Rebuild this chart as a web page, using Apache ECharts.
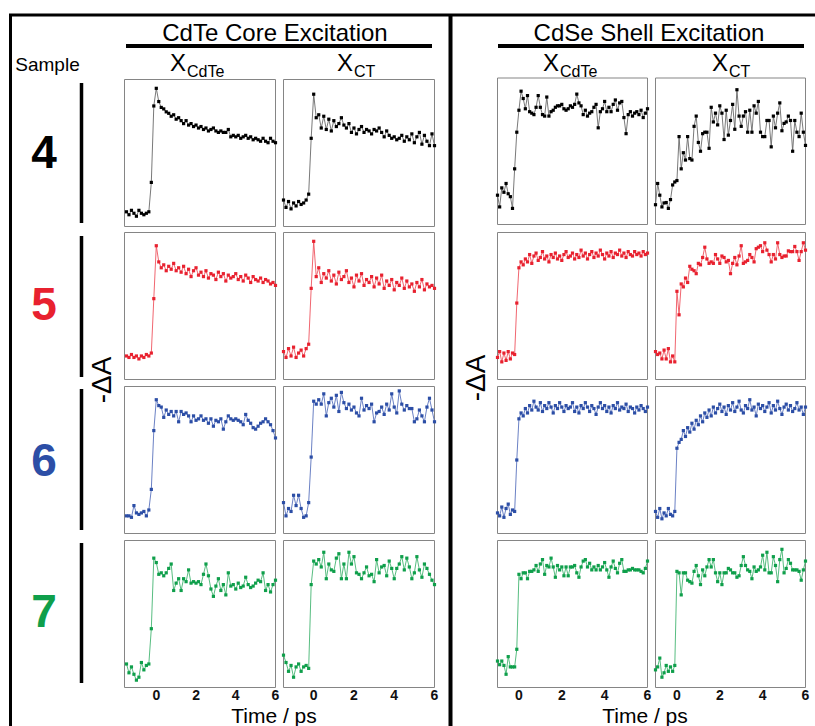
<!DOCTYPE html>
<html>
<head>
<meta charset="utf-8">
<script src="https://cdn.jsdelivr.net/npm/echarts@6/dist/echarts.min.js"></script>
<style>
html,body{margin:0;padding:0;background:#fff;}
#chart{width:815px;height:726px;}
</style>
</head>
<body>
<div id="chart"></div>
<script>
// ---------- DATA ----------
const timeCore = [-1.5,-1.375,-1.25,-1.125,-1,-0.875,-0.75,-0.625,-0.5,-0.375,-0.25,-0.125,0,0.125,0.25,0.375,0.5,0.625,0.75,0.875,1,1.125,1.25,1.375,1.5,1.625,1.75,1.875,2,2.125,2.25,2.375,2.5,2.625,2.75,2.875,3,3.125,3.25,3.375,3.5,3.625,3.75,3.875,4,4.125,4.25,4.375,4.5,4.625,4.75,4.875,5,5.125,5.25,5.375,5.5,5.625,5.75,5.875,6];
const timeShell = [-1,-0.9,-0.8,-0.7,-0.6,-0.5,-0.4,-0.3,-0.2,-0.1,0,0.1,0.2,0.3,0.4,0.5,0.6,0.7,0.8,0.9,1,1.1,1.2,1.3,1.4,1.5,1.6,1.7,1.8,1.9,2,2.1,2.2,2.3,2.4,2.5,2.6,2.7,2.8,2.9,3,3.1,3.2,3.3,3.4,3.5,3.6,3.7,3.8,3.9,4,4.1,4.2,4.3,4.4,4.5,4.6,4.7,4.8,4.9,5,5.1,5.2,5.3,5.4,5.5,5.6,5.7,5.8,5.9,6];
const xTickLabels = [0, 2, 4, 6];

const sampleNames = ['4', '5', '6', '7'];
const sampleColors = ['#000000', '#e8212f', '#2c4ea6', '#0f9f4b'];
const lineColors = ['#6a6a6a', '#ee5560', '#5a73bd', '#45b673'];
const excitationTitles = ['CdTe Core Excitation', 'CdSe Shell Excitation'];
const columnSubscripts = ['CdTe', 'CT', 'CdTe', 'CT'];

// normalized -ΔA (0 = panel bottom, 1 = panel top)
const s4CoreCdTe = [0.10,0.08,0.11,0.09,0.07,0.11,0.09,0.08,0.09,0.10,
 0.30,0.82,0.94,
 0.85,0.81,0.80,0.78,0.77,0.75,0.76,0.73,0.74,0.72,
 0.70,0.72,0.69,0.70,0.68,0.69,0.67,0.68,0.66,0.67,
 0.65,0.66,0.67,0.65,0.64,0.65,0.64,0.64,0.66,0.61,
 0.62,0.61,0.62,0.60,0.61,0.62,0.60,0.61,0.59,0.60,
 0.59,0.58,0.60,0.58,0.57,0.60,0.58,0.57];
const s4CoreCT = [0.18,0.13,0.17,0.12,0.16,0.14,0.17,0.15,0.16,0.18,
 0.22,0.60,0.90,
 0.74,0.76,0.67,0.75,0.66,0.73,0.65,0.72,0.68,0.70,
 0.74,0.69,0.67,0.70,0.64,0.67,0.63,0.66,0.68,0.64,
 0.66,0.65,0.63,0.66,0.65,0.67,0.64,0.61,0.65,0.62,
 0.60,0.61,0.59,0.60,0.62,0.58,0.61,0.59,0.63,0.57,
 0.61,0.64,0.56,0.62,0.58,0.55,0.63,0.55];
const s5CoreCdTe = [0.16,0.15,0.17,0.15,0.16,0.14,0.16,0.15,0.17,0.16,
 0.18,0.55,0.91,
 0.80,0.76,0.78,0.74,0.77,0.75,0.79,0.74,0.76,0.73,
 0.77,0.72,0.75,0.70,0.74,0.76,0.71,0.73,0.70,0.74,
 0.69,0.72,0.71,0.68,0.73,0.70,0.72,0.67,0.71,0.69,
 0.70,0.72,0.68,0.70,0.67,0.71,0.69,0.66,0.70,0.68,
 0.67,0.69,0.66,0.68,0.67,0.65,0.66,0.64];
const s5CoreCT = [0.19,0.15,0.21,0.16,0.22,0.15,0.18,0.20,0.16,0.21,
 0.24,0.62,0.94,
 0.70,0.76,0.66,0.72,0.69,0.74,0.67,0.71,0.65,0.73,
 0.68,0.70,0.74,0.66,0.69,0.63,0.71,0.67,0.72,0.64,
 0.68,0.66,0.70,0.63,0.69,0.65,0.71,0.62,0.67,0.64,
 0.68,0.61,0.66,0.64,0.69,0.62,0.67,0.63,0.65,0.60,
 0.66,0.63,0.68,0.61,0.65,0.63,0.64,0.62];
const s6CoreCdTe = [0.12,0.12,0.11,0.19,0.14,0.13,0.14,0.15,0.12,0.16,
 0.30,0.70,0.91,
 0.87,0.86,0.79,0.84,0.81,0.83,0.80,0.83,0.76,0.83,
 0.81,0.82,0.80,0.76,0.80,0.77,0.78,0.80,0.77,0.78,
 0.75,0.78,0.73,0.77,0.76,0.78,0.71,0.76,0.80,0.78,
 0.77,0.78,0.77,0.76,0.74,0.81,0.77,0.75,0.72,0.71,
 0.73,0.75,0.76,0.78,0.76,0.74,0.70,0.65];
const s6CoreCT = [0.21,0.12,0.17,0.15,0.26,0.19,0.26,0.17,0.11,0.12,
 0.21,0.52,0.90,
 0.88,0.91,0.88,0.95,0.80,0.89,0.92,0.86,0.94,0.83,
 0.96,0.89,0.85,0.88,0.84,0.86,0.82,0.80,0.92,0.84,
 0.87,0.85,0.88,0.76,0.82,0.83,0.86,0.81,0.88,0.84,
 0.95,0.86,0.82,0.97,0.88,0.84,0.87,0.85,0.85,0.76,
 0.78,0.84,0.80,0.76,0.86,0.92,0.84,0.76];
const s7CoreCdTe = [0.16,0.10,0.14,0.09,0.05,0.07,0.17,0.12,0.15,0.16,
 0.40,0.88,0.85,
 0.77,0.78,0.76,0.78,0.81,0.84,0.66,0.71,0.74,0.66,
 0.74,0.72,0.80,0.71,0.72,0.71,0.72,0.70,0.77,0.84,
 0.76,0.67,0.62,0.69,0.74,0.66,0.70,0.63,0.78,0.69,
 0.70,0.67,0.71,0.68,0.69,0.75,0.70,0.68,0.69,0.71,
 0.73,0.72,0.78,0.66,0.70,0.65,0.70,0.73];
const s7CoreCT = [0.22,0.17,0.11,0.15,0.07,0.14,0.16,0.11,0.14,0.15,
 0.13,0.70,0.86,
 0.84,0.87,0.82,0.92,0.74,0.84,0.80,0.79,0.88,0.91,
 0.74,0.84,0.74,0.92,0.84,0.89,0.78,0.77,0.74,0.78,
 0.82,0.76,0.77,0.72,0.87,0.78,0.82,0.83,0.76,0.86,
 0.81,0.74,0.81,0.84,0.89,0.80,0.88,0.82,0.74,0.78,
 0.89,0.80,0.75,0.84,0.81,0.77,0.73,0.70];

const s4ShellCdTe = [0.20,0.12,0.25,0.22,0.28,0.21,0.19,0.11,
 0.38,0.63,0.78,0.91,
 0.86,0.79,0.88,0.77,0.76,0.75,0.80,0.88,0.80,0.75,
 0.74,0.87,0.74,0.77,0.78,0.80,0.81,0.81,0.82,0.79,
 0.78,0.79,0.81,0.80,0.82,0.89,0.83,0.81,0.75,0.78,
 0.74,0.76,0.77,0.80,0.82,0.66,0.77,0.79,0.84,0.77,
 0.80,0.77,0.82,0.85,0.78,0.83,0.84,0.73,0.62,0.75,
 0.77,0.74,0.76,0.77,0.75,0.78,0.73,0.76,0.79];
const s4ShellCT = [0.135,0.28,0.20,0.12,0.147,0.15,0.11,0.17,0.27,0.29,
 0.30,0.60,0.38,0.49,0.44,0.60,0.45,0.44,0.67,0.74,
 0.56,0.50,0.62,0.63,0.63,0.52,0.80,0.70,0.76,0.68,
 0.81,0.76,0.58,0.78,0.61,0.71,0.82,0.65,0.92,0.74,
 0.67,0.74,0.77,0.63,0.78,0.63,0.81,0.76,0.84,0.63,
 0.60,0.60,0.71,0.71,0.53,0.74,0.66,0.76,0.83,0.64,
 0.69,0.70,0.74,0.71,0.50,0.71,0.63,0.60,0.76,0.63,
 0.54];
const s5ShellCdTe = [0.15,0.19,0.12,0.18,0.13,0.19,0.14,0.18,
 0.17,0.52,0.76,0.80,
 0.78,0.82,0.80,0.85,0.79,0.84,0.86,0.81,0.83,0.87,
 0.82,0.84,0.80,0.85,0.83,0.86,0.82,0.84,0.81,0.85,
 0.87,0.83,0.84,0.86,0.82,0.85,0.83,0.88,0.84,0.86,
 0.82,0.85,0.87,0.83,0.86,0.84,0.88,0.85,0.82,0.86,
 0.84,0.87,0.83,0.86,0.85,0.88,0.84,0.86,0.83,0.87,
 0.85,0.84,0.87,0.85,0.86,0.84,0.87,0.85,0.86];
const s5ShellCT = [0.19,0.17,0.18,0.14,0.20,0.14,0.21,0.12,0.16,0.12,
 0.60,0.44,0.65,0.63,0.69,0.66,0.77,0.75,0.74,0.72,
 0.79,0.78,0.83,0.90,0.82,0.79,0.80,0.79,0.85,0.82,
 0.79,0.84,0.83,0.80,0.81,0.72,0.79,0.83,0.78,0.84,
 0.91,0.79,0.80,0.81,0.85,0.83,0.80,0.89,0.90,0.91,
 0.87,0.93,0.88,0.85,0.80,0.85,0.82,0.93,0.85,0.83,
 0.84,0.84,0.875,0.87,0.87,0.905,0.87,0.81,0.87,0.93,
 0.88];
const s6ShellCdTe = [0.14,0.12,0.18,0.11,0.17,0.20,0.13,0.16,
 0.15,0.50,0.78,0.82,
 0.80,0.85,0.82,0.87,0.84,0.90,0.86,0.84,0.89,0.83,
 0.87,0.85,0.89,0.86,0.82,0.87,0.85,0.89,0.86,0.83,
 0.87,0.85,0.86,0.89,0.83,0.86,0.82,0.87,0.85,0.89,
 0.86,0.83,0.87,0.85,0.81,0.86,0.89,0.85,0.87,0.83,
 0.86,0.82,0.87,0.85,0.89,0.84,0.86,0.85,0.88,0.83,
 0.86,0.85,0.82,0.86,0.84,0.87,0.85,0.83,0.86];
const s6ShellCT = [0.15,0.11,0.17,0.10,0.14,0.12,0.17,0.13,
 0.12,0.15,0.58,0.62,
 0.64,0.70,0.66,0.72,0.69,0.75,0.71,0.77,0.74,0.80,
 0.76,0.82,0.79,0.84,0.80,0.86,0.82,0.85,0.88,0.83,
 0.86,0.81,0.87,0.84,0.89,0.83,0.86,0.90,0.84,0.82,
 0.87,0.85,0.91,0.84,0.86,0.80,0.88,0.85,0.87,0.83,
 0.86,0.89,0.82,0.87,0.84,0.90,0.85,0.81,0.86,0.88,
 0.84,0.87,0.83,0.85,0.89,0.84,0.86,0.81,0.86];
const s7ShellCdTe = [0.18,0.155,0.18,0.15,0.09,0.21,0.14,0.14,0.14,0.26,
 0.77,0.74,0.78,0.78,0.74,0.79,0.79,0.80,0.83,0.79,
 0.84,0.87,0.77,0.83,0.82,0.88,0.82,0.75,0.83,0.80,
 0.82,0.76,0.82,0.76,0.82,0.82,0.83,0.78,0.75,0.82,
 0.86,0.87,0.82,0.845,0.80,0.82,0.80,0.83,0.80,0.82,
 0.85,0.80,0.75,0.82,0.86,0.81,0.78,0.845,0.87,0.79,
 0.79,0.80,0.80,0.81,0.80,0.80,0.80,0.79,0.78,0.81,0.86];
const s7ShellCT = [0.12,0.14,0.20,0.07,0.10,0.15,0.11,0.14,0.11,0.15,
 0.79,0.78,0.63,0.78,0.78,0.73,0.72,0.71,0.79,0.83,
 0.76,0.70,0.80,0.76,0.82,0.87,0.82,0.87,0.78,0.72,
 0.78,0.70,0.78,0.78,0.81,0.80,0.78,0.78,0.75,0.76,
 0.83,0.89,0.83,0.80,0.79,0.74,0.82,0.79,0.80,0.82,
 0.90,0.80,0.92,0.78,0.78,0.89,0.83,0.72,0.87,0.94,
 0.78,0.81,0.87,0.845,0.80,0.80,0.80,0.79,0.73,0.80,0.86];

// ---------- LAYOUT ----------
const panelValues = [
  [s4CoreCdTe, s4CoreCT, s4ShellCdTe, s4ShellCT],
  [s5CoreCdTe, s5CoreCT, s5ShellCdTe, s5ShellCT],
  [s6CoreCdTe, s6CoreCT, s6ShellCdTe, s6ShellCT],
  [s7CoreCdTe, s7CoreCT, s7ShellCdTe, s7ShellCT]
];
const columnTimes = [timeCore, timeCore, timeShell, timeShell];
const columnMin = [-1.6, -1.5, -1, -1];
const colLeft = [124.5, 283.5, 497.5, 655.5];
const colWidth = [151, 151, 150, 150];
const rowTop = [79.5, 232.5, 386.5, 540.5];
const rowHeight = 147;
const FONT = "'Liberation Sans', Arial, Helvetica, sans-serif";

const grids = [], xAxes = [], yAxes = [], series = [];
for (let r = 0; r < 4; r++) {
  for (let c = 0; c < 4; c++) {
    const i = grids.length;
    const top = (r === 0 && c >= 2) ? rowTop[r] - 1.5 : rowTop[r];
    const h = (r === 0 && c >= 2) ? rowHeight - 0.5 : rowHeight;
    grids.push({
      left: colLeft[c], top: top, width: colWidth[c], height: h,
      show: true, borderColor: '#858585', borderWidth: 1, backgroundColor: 'transparent'
    });
    const bottom = r === 3;
    xAxes.push({
      type: 'value', gridIndex: i, min: columnMin[c], max: 6,
      axisLine: { show: false }, splitLine: { show: false },
      axisTick: { show: false },
      axisLabel: {
        show: bottom, customValues: xTickLabels, margin: 1, lineHeight: 12,
        fontSize: 14, fontWeight: 'bold', color: '#111', fontFamily: FONT
      }
    });
    yAxes.push({ type: 'value', gridIndex: i, min: 0, max: 1, show: false });
    const t = columnTimes[c], v = panelValues[r][c];
    const n = Math.min(t.length, v.length);
    const data = [];
    for (let k = 0; k < n; k++) data.push([t[k], v[k]]);
    series.push({
      type: 'line', xAxisIndex: i, yAxisIndex: i, data: data,
      symbol: 'rect', symbolSize: 3.2, silent: true,
      itemStyle: { color: sampleColors[r] },
      lineStyle: { color: lineColors[r], width: 0.9 },
      emphasis: { disabled: true }
    });
  }
}

// ---------- DECORATION ----------
const g = [];
function line(x1, y1, x2, y2, w, col) {
  g.push({ type: 'line', silent: true, shape: { x1, y1, x2, y2 }, style: { stroke: col || '#000', lineWidth: w } });
}
function text(str, x, y, size, opts) {
  opts = opts || {};
  const st = {
    text: str, fontSize: size, fontFamily: FONT, fontWeight: opts.weight || 'normal',
    fill: opts.color || '#000', align: opts.align || 'center', verticalAlign: opts.valign || 'middle'
  };
  if (opts.lineHeight) st.lineHeight = opts.lineHeight;
  g.push({ type: 'text', silent: true, x: x, y: y, rotation: opts.rotation || 0, style: st });
}
// outer frame
line(10.5, 14, 10.5, 726, 3);
line(9, 15, 815, 15, 3);
line(450.5, 15, 450.5, 726, 4);
// group headers
text(excitationTitles[0], 275, 32.5, 24);
text(excitationTitles[1], 649, 32.5, 24);
line(126, 46, 432, 46, 4);
line(498, 46, 804, 46, 4);
// column headers X_sub
const headerXLeft = [170, 337, 543, 712];
for (let c = 0; c < 4; c++) {
  text('X', headerXLeft[c], 62.5, 24, { align: 'left' });
  text(columnSubscripts[c], headerXLeft[c] + 17, 71, 16, { align: 'left' });
}
// Sample label and numbers
text('Sample', 47.5, 64.5, 19);
const sampleMid = [152, 303.5, 460, 611];
for (let r = 0; r < 4; r++) {
  text(sampleNames[r], 44, sampleMid[r], 46, { weight: 'bold', color: sampleColors[r] });
}
const barSpans = [[83, 223], [236, 377], [389, 530], [543, 683]];
barSpans.forEach(s => line(81.5, s[0], 81.5, s[1], 3.5));
// -ΔA axis names
text('-ΔA', 101, 380, 28, { rotation: Math.PI / 2 });
text('-ΔA', 475, 378, 28, { rotation: Math.PI / 2 });
// Time axis names
text('Time / ps', 274, 715, 21, { lineHeight: 16 });
text('Time / ps', 645, 715, 21, { lineHeight: 16 });

const chart = echarts.init(document.getElementById('chart'), null, { renderer: 'svg', width: 815, height: 726 });
chart.setOption({
  animation: false,
  backgroundColor: '#ffffff',
  grid: grids, xAxis: xAxes, yAxis: yAxes, series: series,
  graphic: { elements: g }
});
</script>
</body>
</html>
